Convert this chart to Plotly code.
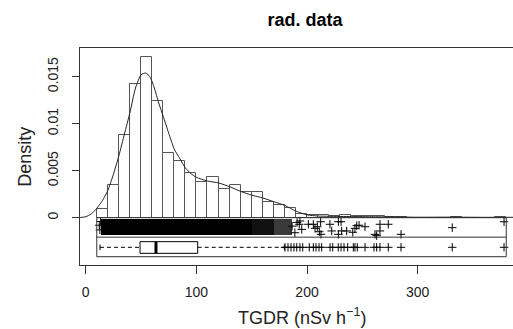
import plotly.graph_objects as go

# ---------------- data ----------------
bin_left = [10, 20, 30, 40, 50, 60, 70, 80, 90, 100, 110, 120, 130, 140, 150, 160, 170, 180,
            190, 200, 210, 220, 230, 240, 250, 260, 270, 280, 290, 300, 310, 320, 330, 340,
            350, 360, 370]
bin_density = [0.00093, 0.00345, 0.0088, 0.01422, 0.0171, 0.01245, 0.0069, 0.00603, 0.00472,
               0.00385, 0.0043, 0.0031, 0.00348, 0.0027, 0.0027, 0.00164, 0.0014, 0.00106,
               0.0004, 0.00025, 0.00025, 0.0002, 0.00025, 0.0002, 0.0002, 0.00015, 0.0001,
               0.0001, 0.0, 0.0, 0.0, 0.0, 0.0001, 0.0, 0.0, 0.0, 0.0001]
bin_width = 10

kde_x = [-5, 0, 5, 10, 15, 20, 25, 30, 35, 40, 45, 50, 54, 58, 62, 66, 70, 75, 80, 85, 90, 95,
         100, 110, 120, 130, 140, 150, 160, 170, 180, 190, 200, 210, 220, 240, 260, 280, 300,
         330, 360, 387]
kde_y = [0.00002, 0.0001, 0.0004, 0.001, 0.0018, 0.0029, 0.0046, 0.0066, 0.0089, 0.0112,
         0.0138, 0.0152, 0.0154, 0.0150, 0.0138, 0.0122, 0.0108, 0.0090, 0.0073, 0.0063,
         0.0053, 0.0047, 0.0043, 0.0039, 0.0037, 0.0033, 0.0028, 0.0024, 0.0021, 0.0017,
         0.0013, 0.0007, 0.0003, 0.00018, 0.00015, 0.00012, 0.0001, 0.00008, 0.00005,
         0.00006, 0.00004, 0.00004]

# dense part of the jittered strip (start, end) of the data values
rug_band_start = [13.5, 150, 170]
rug_band_end = [150, 170, 186]
rug_band_top = -0.0001
rug_band_bottom = -0.00187

# sparse jittered points (value, jitter offset)
rug_x = [12.3, 12.8, 13.5, 193.6, 193.0, 195.2, 201.2, 205.7, 207.2, 209.3, 211.1, 212.3, 212.6,
         220.7, 222.3, 228.3, 230.7, 228.3, 231.3, 235.8, 241.3, 243.3, 244.9, 247.0, 252.4,
         261.4, 262.9, 265.9, 265.9, 273.4, 284.9, 331.2, 378.0, 186.5, 189.0, 191.0]
rug_y = [-0.0008, -0.0013, -0.0004, -0.00035, -0.0007, -0.00124, -0.0007, -0.0007, -0.00113,
         -0.00096, -0.00149, -0.00043, -0.00177, -0.0007, -0.00141, -0.00043, -0.00043,
         -0.00177, -0.00141, -0.00141, -0.00155, -0.00113, -0.00085, -0.0008, -0.00096,
         -0.00177, -0.00191, -0.0007, -0.00141, -0.0007, -0.00177, -0.00106, -0.00043,
         -0.0009, -0.0016, -0.0005]

# boxplot statistics
box_stats = {"low": 12.9, "q1": 49.1, "median": 63.5, "q3": 101.2, "high": 179.5}
outliers = [180.1, 182.8, 185.5, 188.2, 190.7, 193.6, 196.1, 202.0, 205.7, 208.1, 210.8, 213.2,
            220.8, 223.2, 228.2, 230.7, 233.4, 236.7, 241.8, 243.3, 245.4, 252.4, 260.5, 262.9,
            265.9, 273.4, 284.9, 331.2, 378.0]

x_ticks = [0, 100, 200, 300]
y_ticks = [0, 0.005, 0.01, 0.015]
y_tick_text = ["0", "0.005", "0.01", "0.015"]

# ---------------- layout constants ----------------
W, H = 513, 329
ML, MR, MT, MB = 80, 0, 48, 64
X_RANGE = [-5.15, 386.1]
Y_RANGE = [-0.005032, 0.018053]
ROW1 = (0.0, -0.00207)       # jitter row
ROW2 = (-0.00207, -0.00415)  # boxplot row
BOX_Y = (-0.00255, -0.00379)
BOX_C = -0.00315
FONT = "Liberation Sans, Arial, sans-serif"
INK = "#222222"
FRAME = "#333333"
PLUS = dict(symbol="cross-thin", size=6, line=dict(width=1, color="black"))

fig = go.Figure()

# histogram
fig.add_trace(go.Bar(
    x=[b + bin_width / 2 for b in bin_left], y=bin_density, width=bin_width,
    marker=dict(color="white", line=dict(color="#555555", width=1)),
    hoverinfo="skip", showlegend=False))

# jitter dense band
fig.add_trace(go.Bar(
    x=[(s + e) / 2 for s, e in zip(rug_band_start, rug_band_end)],
    y=[rug_band_bottom - rug_band_top] * len(rug_band_start),
    base=[rug_band_top] * len(rug_band_start),
    width=[e - s for s, e in zip(rug_band_start, rug_band_end)],
    marker=dict(color=["#000000", "#111111", "#3a3a3a"], line=dict(width=0)),
    hoverinfo="skip", showlegend=False))

# density curve
fig.add_trace(go.Scatter(x=kde_x, y=kde_y, mode="lines",
                         line=dict(color="#222222", width=1, shape="spline", smoothing=0.6),
                         hoverinfo="skip", showlegend=False))

# sparse jitter points
fig.add_trace(go.Scatter(x=rug_x, y=rug_y, mode="markers", marker=PLUS,
                         hoverinfo="skip", showlegend=False))

# boxplot whiskers
fig.add_trace(go.Scatter(x=[box_stats["low"], box_stats["q1"]], y=[BOX_C, BOX_C], mode="lines",
                         line=dict(color="black", width=1, dash="4px,3px"),
                         hoverinfo="skip", showlegend=False))
fig.add_trace(go.Scatter(x=[box_stats["q3"], box_stats["high"]], y=[BOX_C, BOX_C], mode="lines",
                         line=dict(color="black", width=1, dash="4px,3px"),
                         hoverinfo="skip", showlegend=False))
# outliers
fig.add_trace(go.Scatter(x=outliers, y=[BOX_C] * len(outliers), mode="markers", marker=PLUS,
                         hoverinfo="skip", showlegend=False))

shapes = []
x_lo, x_hi = bin_left[0], bin_left[-1] + bin_width
# rug box and divider
shapes.append(dict(type="rect", x0=x_lo, x1=x_hi, y0=ROW1[0], y1=ROW2[1],
                   line=dict(color=FRAME, width=1)))
shapes.append(dict(type="line", x0=x_lo, x1=x_hi, y0=ROW1[1], y1=ROW1[1],
                   line=dict(color=FRAME, width=1)))
# box
shapes.append(dict(type="rect", x0=box_stats["q1"], x1=box_stats["q3"], y0=BOX_Y[0], y1=BOX_Y[1],
                   line=dict(color="black", width=1), fillcolor="white", layer="above"))
shapes.append(dict(type="line", x0=box_stats["median"], x1=box_stats["median"],
                   y0=BOX_Y[0], y1=BOX_Y[1], line=dict(color="black", width=3)))
# whisker caps
for v in (box_stats["low"], box_stats["high"]):
    shapes.append(dict(type="line", x0=v, x1=v, y0=BOX_C + 0.0003, y1=BOX_C - 0.0003,
                       line=dict(color="black", width=1)))

fig.update_layout(
    width=W, height=H, margin=dict(l=ML, r=MR, t=MT, b=MB),
    paper_bgcolor="white", plot_bgcolor="white",
    barmode="overlay", bargap=0,
    shapes=shapes,
    title=dict(text="<b>rad. data</b>", x=305 / W, xref="container", xanchor="center",
               y=1 - 19.5 / H, yref="container", yanchor="middle",
               font=dict(family=FONT, size=18, color="black")),
    font=dict(family=FONT, color=INK),
    xaxis=dict(range=X_RANGE, showgrid=False, zeroline=False, showline=True, mirror=True,
               linecolor=FRAME, linewidth=1, ticks="outside", ticklen=8, tickcolor=FRAME,
               tickvals=x_ticks, tickfont=dict(size=14, color=INK), ticklabelstandoff=6),
    yaxis=dict(range=Y_RANGE, showgrid=False, zeroline=False, showline=True, mirror=False,
               linecolor=FRAME, linewidth=1, ticks="outside", ticklen=7, tickcolor=FRAME,
               tickvals=y_ticks, ticktext=y_tick_text, tickangle=-90,
               tickfont=dict(size=14, color=INK), ticklabelstandoff=8),
    annotations=[
        dict(text="TGDR (nSv h<sup>\u22121</sup>)", x=(302 - ML) / (W - ML - MR), y=-0.238,
             xref="paper", yref="paper", xanchor="center", yanchor="middle", showarrow=False,
             font=dict(family=FONT, size=18, color=INK)),
        dict(text="Density", x=(25 - ML) / (W - ML - MR), y=0.499, xref="paper", yref="paper",
             xanchor="center", yanchor="middle", textangle=-90, showarrow=False,
             font=dict(family=FONT, size=18, color=INK)),
    ],
)

fig.write_html("out.html")
